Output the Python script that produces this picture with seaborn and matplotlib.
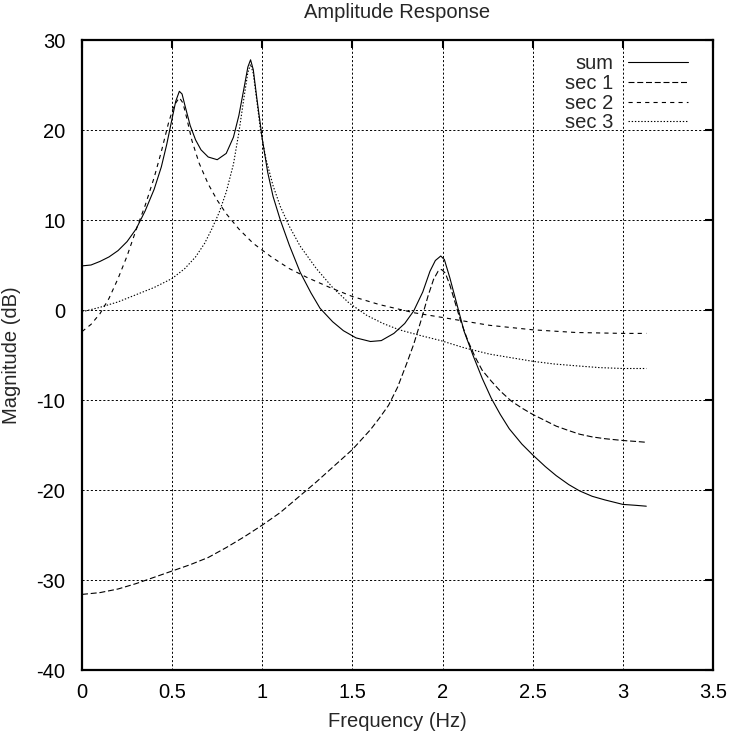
import numpy as np
import pandas as pd
import matplotlib
matplotlib.use("Agg")
import matplotlib.pyplot as plt
import seaborn as sns

# ---- data ----
sum_f = [0.0, 0.05, 0.10, 0.15, 0.20, 0.25, 0.30, 0.35, 0.40, 0.44, 0.47, 0.50, 0.52, 0.54,
         0.555, 0.57, 0.60, 0.63, 0.66, 0.70, 0.75, 0.80, 0.84, 0.87, 0.90, 0.92, 0.935,
         0.95, 0.97, 1.00, 1.03, 1.06, 1.10, 1.15, 1.21, 1.27, 1.32, 1.39, 1.45, 1.52,
         1.60, 1.66, 1.73, 1.79, 1.84, 1.89, 1.93, 1.96, 1.99, 2.01, 2.04, 2.08, 2.12,
         2.17, 2.22, 2.27, 2.32, 2.37, 2.44, 2.50, 2.57, 2.63, 2.70, 2.76, 2.83, 2.90,
         3.00, 3.07, 3.13]
sum_db = [4.9, 5.0, 5.4, 5.9, 6.6, 7.6, 9.0, 11.0, 13.4, 15.9, 18.4, 21.3, 23.2, 24.3,
          24.0, 22.8, 20.5, 18.9, 17.8, 17.0, 16.7, 17.4, 19.2, 21.6, 24.8, 27.0, 27.8,
          26.7, 23.5, 19.0, 15.3, 12.6, 10.0, 7.2, 4.2, 1.9, 0.2, -1.3, -2.3, -3.1,
          -3.5, -3.4, -2.6, -1.5, -0.1, 2.0, 4.3, 5.5, 6.0, 5.6, 3.6, 0.6, -2.4,
          -5.1, -7.6, -9.8, -11.6, -13.2, -14.9, -16.1, -17.4, -18.4, -19.4, -20.1, -20.7, -21.1,
          -21.6, -21.7, -21.8]

sec1_f = [0.0, 0.1, 0.2, 0.3, 0.4, 0.5, 0.6, 0.7, 0.8, 0.9, 1.0, 1.1, 1.2, 1.3, 1.4, 1.5,
          1.6, 1.65, 1.70, 1.75, 1.80, 1.84, 1.88, 1.92, 1.95, 1.975, 1.995, 2.015, 2.04,
          2.07, 2.10, 2.14, 2.18, 2.22, 2.27, 2.32, 2.38, 2.44, 2.50, 2.57, 2.63, 2.70,
          2.76, 2.83, 2.90, 3.00, 3.07, 3.13]
sec1_db = [-31.6, -31.4, -31.0, -30.4, -29.7, -29.0, -28.3, -27.5, -26.4, -25.2, -23.9, -22.5,
           -20.8, -19.1, -17.3, -15.5, -13.3, -12.0, -10.6, -8.6, -6.0, -3.8, -1.2, 1.6, 3.4,
           4.3, 4.5, 4.1, 2.8, 0.8, -1.2, -3.4, -5.2, -6.7, -7.9, -9.0, -10.1, -10.9, -11.6,
           -12.3, -12.9, -13.4, -13.8, -14.1, -14.3, -14.5, -14.6, -14.7]

sec2_f = [0.0, 0.05, 0.10, 0.15, 0.20, 0.25, 0.30, 0.35, 0.40, 0.44, 0.48, 0.51, 0.54, 0.56,
          0.58, 0.61, 0.65, 0.70, 0.75, 0.80, 0.87, 0.95, 1.05, 1.15, 1.25, 1.375, 1.50,
          1.65, 1.84, 2.02, 2.26, 2.50, 2.74, 3.00, 3.13]
sec2_db = [-2.4, -1.6, -0.4, 1.3, 3.5, 6.0, 8.9, 11.6, 14.7, 17.6, 20.8, 22.7, 23.6, 23.0,
           21.4, 18.8, 16.3, 14.0, 12.2, 10.7, 9.0, 7.4, 5.9, 4.6, 3.6, 2.5, 1.5,
           0.6, -0.3, -0.9, -1.7, -2.2, -2.5, -2.6, -2.6]

sec3_f = [0.0, 0.1, 0.2, 0.3, 0.4, 0.5, 0.57, 0.63, 0.68, 0.72, 0.76, 0.80, 0.84, 0.87, 0.90,
          0.92, 0.935, 0.95, 0.97, 0.99, 1.02, 1.06, 1.10, 1.15, 1.21, 1.30, 1.39, 1.48,
          1.58, 1.67, 1.76, 1.87, 1.99, 2.12, 2.26, 2.38, 2.50, 2.62, 2.74, 2.87, 3.00, 3.13]
sec3_db = [-0.2, 0.3, 0.9, 1.7, 2.5, 3.5, 4.6, 5.9, 7.4, 9.0, 10.8, 13.1, 16.2, 19.7, 23.8,
           26.4, 27.3, 26.3, 23.2, 20.0, 16.8, 13.8, 11.5, 9.3, 7.1, 4.6, 2.5, 0.8,
           -0.6, -1.5, -2.2, -2.8, -3.4, -4.2, -4.9, -5.3, -5.7, -6.0, -6.2, -6.4, -6.5, -6.5]

series_names = ["sum", "sec 1", "sec 2", "sec 3"]
x_ticks = [0, 0.5, 1, 1.5, 2, 2.5, 3, 3.5]
x_tick_labels = ["0", "0.5", "1", "1.5", "2", "2.5", "3", "3.5"]
y_ticks = [-40, -30, -20, -10, 0, 10, 20, 30]

df = pd.concat([
    pd.DataFrame({"f": sum_f, "db": sum_db, "series": "sum"}),
    pd.DataFrame({"f": sec1_f, "db": sec1_db, "series": "sec 1"}),
    pd.DataFrame({"f": sec2_f, "db": sec2_db, "series": "sec 2"}),
    pd.DataFrame({"f": sec3_f, "db": sec3_db, "series": "sec 3"}),
], ignore_index=True)

# ---- style ----
sns.set_style("white")
plt.rcParams["font.family"] = ["Liberation Sans", "DejaVu Sans"]
plt.rcParams["lines.scale_dashes"] = False
plt.rcParams["axes.unicode_minus"] = False
FS = 14.5

fig = plt.figure(figsize=(7.29, 7.35), dpi=100)
ax = fig.add_axes([82 / 729, 1 - 670 / 735, 631 / 729, 630 / 735])

dashes = {"sum": "", "sec 1": (4.3, 2.0), "sec 2": (3.0, 3.0), "sec 3": (1.0, 1.3)}
sns.lineplot(data=df, x="f", y="db", hue="series", style="series",
             hue_order=series_names, style_order=series_names,
             palette=["black"] * 4, dashes=dashes, estimator=None, sort=False,
             linewidth=0.8, legend=False, ax=ax)

ax.set_xlim(0, 3.5)
ax.set_ylim(-40, 30)
ax.set_xticks(x_ticks)
ax.set_xticklabels(x_tick_labels)
ax.set_yticks(y_ticks)
ax.grid(True, color="black", linestyle=(0, (1.5, 1.5)), linewidth=0.7)
for s in ax.spines.values():
    s.set_linewidth(1.6)
    s.set_color("black")
ax.tick_params(direction="in", length=6, width=1.5, top=True, right=True,
               labelsize=FS, pad=9, colors="black")
ax.tick_params(axis="y", pad=12)

ax.set_xlabel("Frequency (Hz)", fontsize=FS)
ax.set_ylabel("Magnitude (dB)", fontsize=FS)
ax.xaxis.set_label_coords(0.5, -0.066)
ax.yaxis.set_label_coords(-0.097, 0.5)
ax.set_title("Amplitude Response", fontsize=FS, pad=16)

handles = ax.get_lines()[:4]
ax.legend(handles, series_names, loc="upper right", bbox_to_anchor=(0.9604, 0.977),
          frameon=False, markerfirst=False, fontsize=FS, handlelength=3.0,
          handletextpad=0.7, labelspacing=0.03, borderaxespad=0, borderpad=0)

fig.savefig("out.png", dpi=100)
